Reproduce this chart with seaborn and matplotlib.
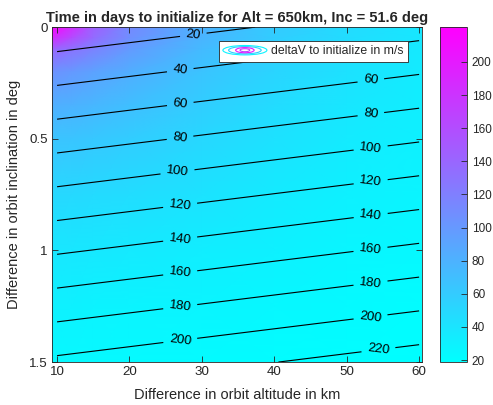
import numpy as np
import pandas as pd
import seaborn as sns
import matplotlib
matplotlib.use("Agg")
import matplotlib.pyplot as plt
from matplotlib.patches import Ellipse, Patch
from matplotlib.legend_handler import HandlerBase

# ---------------- data ----------------
# time in days to initialize (black contour lines)
alt_km = [10, 20, 30, 40, 50, 60]
inc_deg = [0.0, 0.5, 1.0, 1.5]
days_inc0 = [5.5, 10.8, 16.1, 21.4, 26.7, 32.0]
days_inc05 = [71.6, 76.9, 82.2, 87.5, 92.8, 98.1]
days_inc10 = [137.7, 143.0, 148.3, 153.6, 158.9, 164.2]
days_inc15 = [203.8, 209.1, 214.4, 219.7, 225.0, 230.3]
day_levels = [20, 40, 60, 80, 100, 120, 140, 160, 180, 200, 220]

# deltaV to initialize in m/s (colour background)
dv_alt = [9.3, 12, 15, 20, 30, 40, 50, 60.4]
dv_inc = [0.0, 0.05, 0.1, 0.2, 0.35, 0.5, 0.75, 1.0, 1.25, 1.5]
dv_rows = [
    [218, 185, 145, 112, 80, 60, 47, 38],
    [185, 160, 135, 107, 78, 58, 46, 37],
    [140, 130, 117, 98, 73, 56, 44, 36],
    [105, 100, 93, 83, 66, 52, 42, 34],
    [82, 80, 76, 70, 58, 47, 38, 32],
    [66, 65, 63, 59, 50, 42, 35, 30],
    [50, 49, 48, 46, 41, 35, 30, 27],
    [38, 38, 37, 36, 33, 30, 26, 24],
    [30, 30, 29, 28, 27, 25, 23, 21],
    [24, 24, 24, 23, 22, 21, 20, 19],
]
cbar_ticks = [20, 40, 60, 80, 100, 120, 140, 160, 180, 200]

# ---------------- style ----------------
sns.set_style("white")
plt.rcParams["font.family"] = ["Liberation Sans", "DejaVu Sans"]
plt.rcParams["axes.edgecolor"] = "#262626"
plt.rcParams["axes.linewidth"] = 0.6
plt.rcParams["axes.axisbelow"] = False

days_df = pd.DataFrame([days_inc0, days_inc05, days_inc10, days_inc15],
                       index=inc_deg, columns=alt_km)
dv_df = pd.DataFrame(dv_rows, index=dv_inc, columns=dv_alt)

cmap = sns.color_palette("cool", as_cmap=True)

fig = plt.figure(figsize=(4.93, 4.05), dpi=100)
ax = fig.add_axes([0.1055, 0.106, 0.7505, 0.827])
cax = fig.add_axes([0.8925, 0.106, 0.0548, 0.827])

DX, DY = np.meshgrid(dv_df.columns.values, dv_df.index.values)
mesh = ax.pcolormesh(DX, DY, dv_df.values, cmap=cmap, shading="gouraud",
                     vmin=18.8, vmax=221)

AX, AY = np.meshgrid(days_df.columns.values, days_df.index.values)
cs = ax.contour(AX, AY, days_df.values, levels=day_levels, colors="black",
                linewidths=0.8)

label_pos = [(28.8, 0.03), (27.0, 0.19), (27.0, 0.34), (27.0, 0.50),
             (26.6, 0.64), (27.0, 0.80), (27.0, 0.95), (27.0, 1.10),
             (27.0, 1.25), (27.0, 1.40),
             (53.3, 0.23), (53.3, 0.38), (53.3, 0.54), (53.3, 0.69),
             (53.3, 0.84), (53.3, 1.00), (53.3, 1.15), (53.3, 1.30),
             (54.4, 1.45)]
ax.clabel(cs, inline=True, fmt="%d", fontsize=9.5, manual=label_pos,
          inline_spacing=6)

ax.set_xlim(9.3, 60.4)
ax.set_ylim(1.5, 0)
ax.set_xticks([10, 20, 30, 40, 50, 60])
ax.set_yticks([0, 0.5, 1, 1.5])
ax.set_yticklabels(["0", "0.5", "1", "1.5"])
ax.set_axisbelow(False)
ax.tick_params(direction="in", length=4, width=0.6, top=True, right=True,
               bottom=True, left=True, labelsize=9.6, colors="#262626", pad=3)
ax.set_xlabel("Difference in orbit altitude in km", fontsize=10.5, color="#262626")
ax.set_ylabel("Difference in orbit inclination in deg", fontsize=10.5, color="#262626")
ax.xaxis.set_label_coords(0.5, -0.078)
ax.yaxis.set_label_coords(-0.083, 0.5)
ax.set_title("Time in days to initialize for Alt = 650km, Inc = 51.6 deg",
             fontsize=10.5, fontweight="bold", pad=4)


class HandlerRings(HandlerBase):
    def create_artists(self, legend, orig_handle, xdescent, ydescent,
                       width, height, fontsize, trans):
        cx = width / 2 - xdescent
        cy = height / 2 - ydescent
        arts = []
        for fw, fh, v in [(1.0, 1.1, 0.05), (0.74, 0.85, 0.2),
                          (0.42, 0.6, 0.92), (0.22, 0.35, 0.75)]:
            e = Ellipse((cx, cy), width * fw, height * fh, fill=False,
                        edgecolor=cmap(v), linewidth=0.8, transform=trans)
            arts.append(e)
        return arts


proxy = Patch(label="deltaV to initialize in m/s")
leg = ax.legend(handles=[proxy], handler_map={Patch: HandlerRings()},
                loc="upper right", bbox_to_anchor=(0.962, 0.958),
                borderaxespad=0, fontsize=8.8, handlelength=3.6,
                handletextpad=0.35, borderpad=0.35, fancybox=False,
                framealpha=1, edgecolor="#262626")
leg.get_frame().set_linewidth(0.6)

cb = fig.colorbar(mesh, cax=cax, ticks=cbar_ticks)
cb.outline.set_linewidth(0.6)
cb.outline.set_edgecolor("#262626")
cax.set_axisbelow(False)
cax.tick_params(direction="in", length=4, width=0.6, labelsize=8.5,
                right=True, colors="#262626")

fig.savefig("out.png", dpi=100)
